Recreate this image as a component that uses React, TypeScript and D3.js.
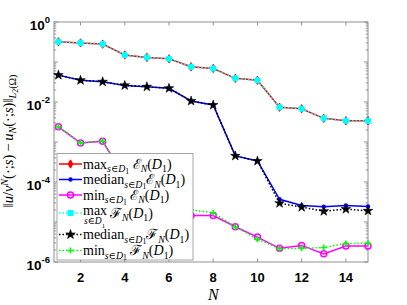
import React from 'react'
import * as d3 from 'd3'

// values (log scale)
const N = d3.range(1, 16)
const maxE = [0.32, 0.30, 0.28, 0.15, 0.13, 0.12, 0.076, 0.069, 0.039, 0.035, 0.0074, 0.0068, 0.0039, 0.0034, 0.0034]
const medianE = [0.047, 0.035, 0.032, 0.026, 0.024, 0.022, 0.0106, 0.0084, 4.5e-4, 3.35e-4, 3.7e-5, 2.6e-5, 2.4e-5, 2.6e-5, 2.45e-5]
const minE = [0.0024, 9.5e-4, 1.05e-3, 1.26e-4, 5e-5, 2.5e-5, 1.45e-5, 1.45e-5, 7.6e-6, 4.2e-6, 2.2e-6, 2.6e-6, 1.6e-6, 2.5e-6, 2.5e-6]
const maxF = [0.32, 0.30, 0.28, 0.15, 0.13, 0.12, 0.076, 0.069, 0.039, 0.035, 0.0074, 0.0068, 0.0039, 0.0034, 0.0034]
const medianF = [0.047, 0.035, 0.032, 0.026, 0.024, 0.022, 0.0106, 0.0084, 4.5e-4, 3.35e-4, 2.95e-5, 2.35e-5, 1.86e-5, 2.1e-5, 1.9e-5]
const minF = [0.0024, 9.5e-4, 1.05e-3, 1.3e-4, 5.2e-5, 2.6e-5, 2.0e-5, 1.7e-5, 7.6e-6, 3.7e-6, 2.15e-6, 2.2e-6, 2.3e-6, 2.9e-6, 2.95e-6]

const xTicks = [2, 4, 6, 8, 10, 12, 14]
const yTicks = [0, -2, -4, -6]

const W = 407, H = 305
const L = 54, R = 368, T = 22, B = 262
const axisCol = '#8f8f8f'
const mathFont = "'Liberation Serif', 'DejaVu Serif', serif"

type Piece = {t: string, lvl?: number, it?: boolean, cal?: boolean}

// tiny latex-ish text: level 0 normal, 1 subscript, 2 sub-subscript, -1 superscript
const shift = (l: number) => (l === 1 ? 3.5 : l === 2 ? 5 : l === -1 ? -5 : 0)
const fsize = (base: number, l: number) => (l === 0 ? base : l === 2 ? base * 0.55 : base * 0.7)

const Mathy = ({x, y, pieces, size = 14, ...rest}: any) => {
  let prev = 0
  return <text x={x} y={y} fontFamily={mathFont} fontSize={size} {...rest}>
    {pieces.map((p: Piece, i: number) => {
      const l = p.lvl || 0
      const dy = shift(l) - prev
      prev = shift(l)
      return <tspan key={i} dy={dy} fontSize={fsize(size, l)} fontStyle={p.it ? 'italic' : 'normal'}
        fontFamily={p.cal ? "'DejaVu Serif', serif" : undefined}>{p.t}</tspan>
    })}
  </text>
}

const subSD: Piece[] = [{t: 's', lvl: 1, it: true}, {t: '∈', lvl: 1}, {t: 'D', lvl: 1, it: true}, {t: '1', lvl: 2}]
const tailE: Piece[] = [{t: 'ℰ', cal: true}, {t: 'N', lvl: 1, it: true}, {t: '('}, {t: 'D', it: true}, {t: '1', lvl: 1}, {t: ')'}]
const tailF: Piece[] = [{t: 'ℱ', cal: true}, {t: 'N', lvl: 1, it: true}, {t: '('}, {t: 'D', it: true}, {t: '1', lvl: 1}, {t: ')'}]

const series = [
  {vals: maxE, color: '#ff0000', dash: null, mark: 'diamond', label: [{t: 'max'}, ...subSD, {t: ' '}, ...tailE]},
  {vals: medianE, color: '#0000ff', dash: null, mark: 'dot', label: [{t: 'median'}, ...subSD, ...tailE]},
  {vals: minE, color: '#ff00ff', dash: null, mark: 'circle', label: [{t: 'min'}, ...subSD, {t: ' '}, ...tailE]},
  {vals: maxF, color: '#00ffff', dash: '1.5 2', mark: 'square', label: null},
  {vals: medianF, color: '#000000', dash: '1.5 2', mark: 'star', label: [{t: 'median'}, ...subSD, ...tailF]},
  {vals: minF, color: '#00ff00', dash: '1.5 2', mark: 'plus', label: [{t: 'min'}, ...subSD, {t: ' '}, ...tailF]},
]

const star = d3.symbol().type(d3.symbolStar).size(28)()
const diamond = d3.symbol().type(d3.symbolDiamond).size(20)()

const Marker = ({kind, color, x, y, legend}: any) => {
  const t = `translate(${x},${y})`
  if (kind === 'diamond') return <path d={diamond} transform={t} fill={color} stroke={color} strokeWidth={1} />
  if (kind === 'dot') return <circle cx={x} cy={y} r={2.2} fill={color} />
  if (kind === 'circle') return <circle cx={x} cy={y} r={3} fill="none" stroke={color} strokeWidth={1.5} />
  if (kind === 'square') return legend
    ? <rect x={x - 3} y={y - 3} width={6} height={6} fill={color} />
    : <circle cx={x} cy={y} r={3.3} fill={color} />
  if (kind === 'star') return <path d={star} transform={t} fill={color} stroke={color} strokeWidth={0.6} />
  if (kind === 'plus') return <path d="M-3,0H3M0,-3V3" transform={t} stroke={color} strokeWidth={1.6} />
  return null
}

export default function App() {
  const x = d3.scaleLinear().domain([0.8, 15]).range([L, R])
  const y = d3.scaleLog().domain([1e-6, 1]).range([B, T])
  const line = (vals: number[]) => d3.line<number>().x((_, i) => x(N[i])).y(v => y(v))(vals) || ''

  const minors: number[] = []
  for (let e = -6; e < 0; e++) for (let k = 2; k <= 9; k++) minors.push(k * Math.pow(10, e))
  const majors = d3.range(-6, 1).map(e => Math.pow(10, e))

  const legRows = [164, 179.5, 195, 213, 234.5, 250.5]

  return <svg width={W} height={H} style={{position: 'absolute', left: 0, top: 0, background: '#fff'}}>
    <rect x={0} y={0} width={W} height={H} fill="#fff" />
    {/* axes box and ticks */}
    <g stroke={axisCol} strokeWidth={1} fill="none">
      <rect x={L} y={T} width={R - L} height={B - T} />
      {xTicks.map(t => <g key={t}>
        <line x1={x(t)} x2={x(t)} y1={B} y2={B - 3.5} />
        <line x1={x(t)} x2={x(t)} y1={T} y2={T + 3.5} />
      </g>)}
      {majors.map((v, i) => <g key={'M' + i}>
        <line x1={L} x2={L + 4} y1={y(v)} y2={y(v)} />
        <line x1={R} x2={R - 4} y1={y(v)} y2={y(v)} />
      </g>)}
      {minors.map((v, i) => <g key={'m' + i}>
        <line x1={L} x2={L + 2.2} y1={y(v)} y2={y(v)} />
        <line x1={R} x2={R - 2.2} y1={y(v)} y2={y(v)} />
      </g>)}
    </g>
    {/* tick labels */}
    <g fontFamily="'Liberation Sans', Arial, sans-serif" fontWeight="bold" fill="#000">
      {xTicks.map(t => <text key={t} x={x(t)} y={B + 20} fontSize={13} textAnchor="middle">{t}</text>)}
      {yTicks.map(e => <text key={e} x={50} y={y(Math.pow(10, e)) + 8} fontSize={13.5} textAnchor="end">
        10<tspan dy={-7} fontSize={9.5}>{e === 0 ? '0' : '-' + -e}</tspan>
      </text>)}
    </g>
    {/* series */}
    {series.map((s, si) => <g key={si}>
      <path d={line(s.vals)} fill="none" stroke={s.color} strokeWidth={1.5}
        strokeDasharray={s.dash || undefined} />
      {s.vals.map((v, i) => <Marker key={i} kind={s.mark} color={s.color} x={x(N[i])} y={y(v)} />)}
    </g>)}
    {/* legend */}
    <rect x={57} y={153.5} width={136} height={106.5} fill="#fff" stroke={axisCol} strokeWidth={0.8} />
    {series.map((s, si) => <g key={'l' + si}>
      <line x1={59} x2={82} y1={legRows[si]} y2={legRows[si]} stroke={s.color} strokeWidth={1.5}
        strokeDasharray={s.dash || undefined} />
      <Marker kind={s.mark} color={s.color} x={70.5} y={legRows[si]} legend />
      {s.label
        ? <Mathy x={83} y={legRows[si] + 4.5} pieces={s.label} />
        : <g>
          <Mathy x={83} y={legRows[si] + 2} pieces={[{t: 'max'}]} />
          <Mathy x={84} y={legRows[si] + 11} size={9.5} pieces={[{t: 's', it: true}, {t: '∈'}, {t: 'D', it: true}, {t: '1', lvl: 1}]} />
          <Mathy x={110} y={legRows[si] + 4.5} pieces={tailF} />
        </g>}
    </g>)}
    {/* axis labels */}
    <text x={x(8)} y={300} fontFamily={mathFont} fontStyle="italic" fontSize={16} textAnchor="middle">N</text>
    <g transform={`translate(12.5,141) rotate(-90)`}>
      <Mathy x={0} y={0} size={14.5} textAnchor="middle" pieces={[
        {t: '‖'}, {t: 'u', it: true}, {t: '/'}, {t: 'v', it: true}, {t: 'N', lvl: -1, it: true},
        {t: '(·;'}, {t: 's', it: true}, {t: ')\u2009−\u2009'}, {t: 'u', it: true}, {t: 'N', lvl: 1, it: true},
        {t: '(·;'}, {t: 's', it: true}, {t: ')‖'}, {t: 'L', lvl: 1, it: true}, {t: '2', lvl: 2}, {t: '(Ω)', lvl: 1},
      ]} />
    </g>
  </svg>
}
